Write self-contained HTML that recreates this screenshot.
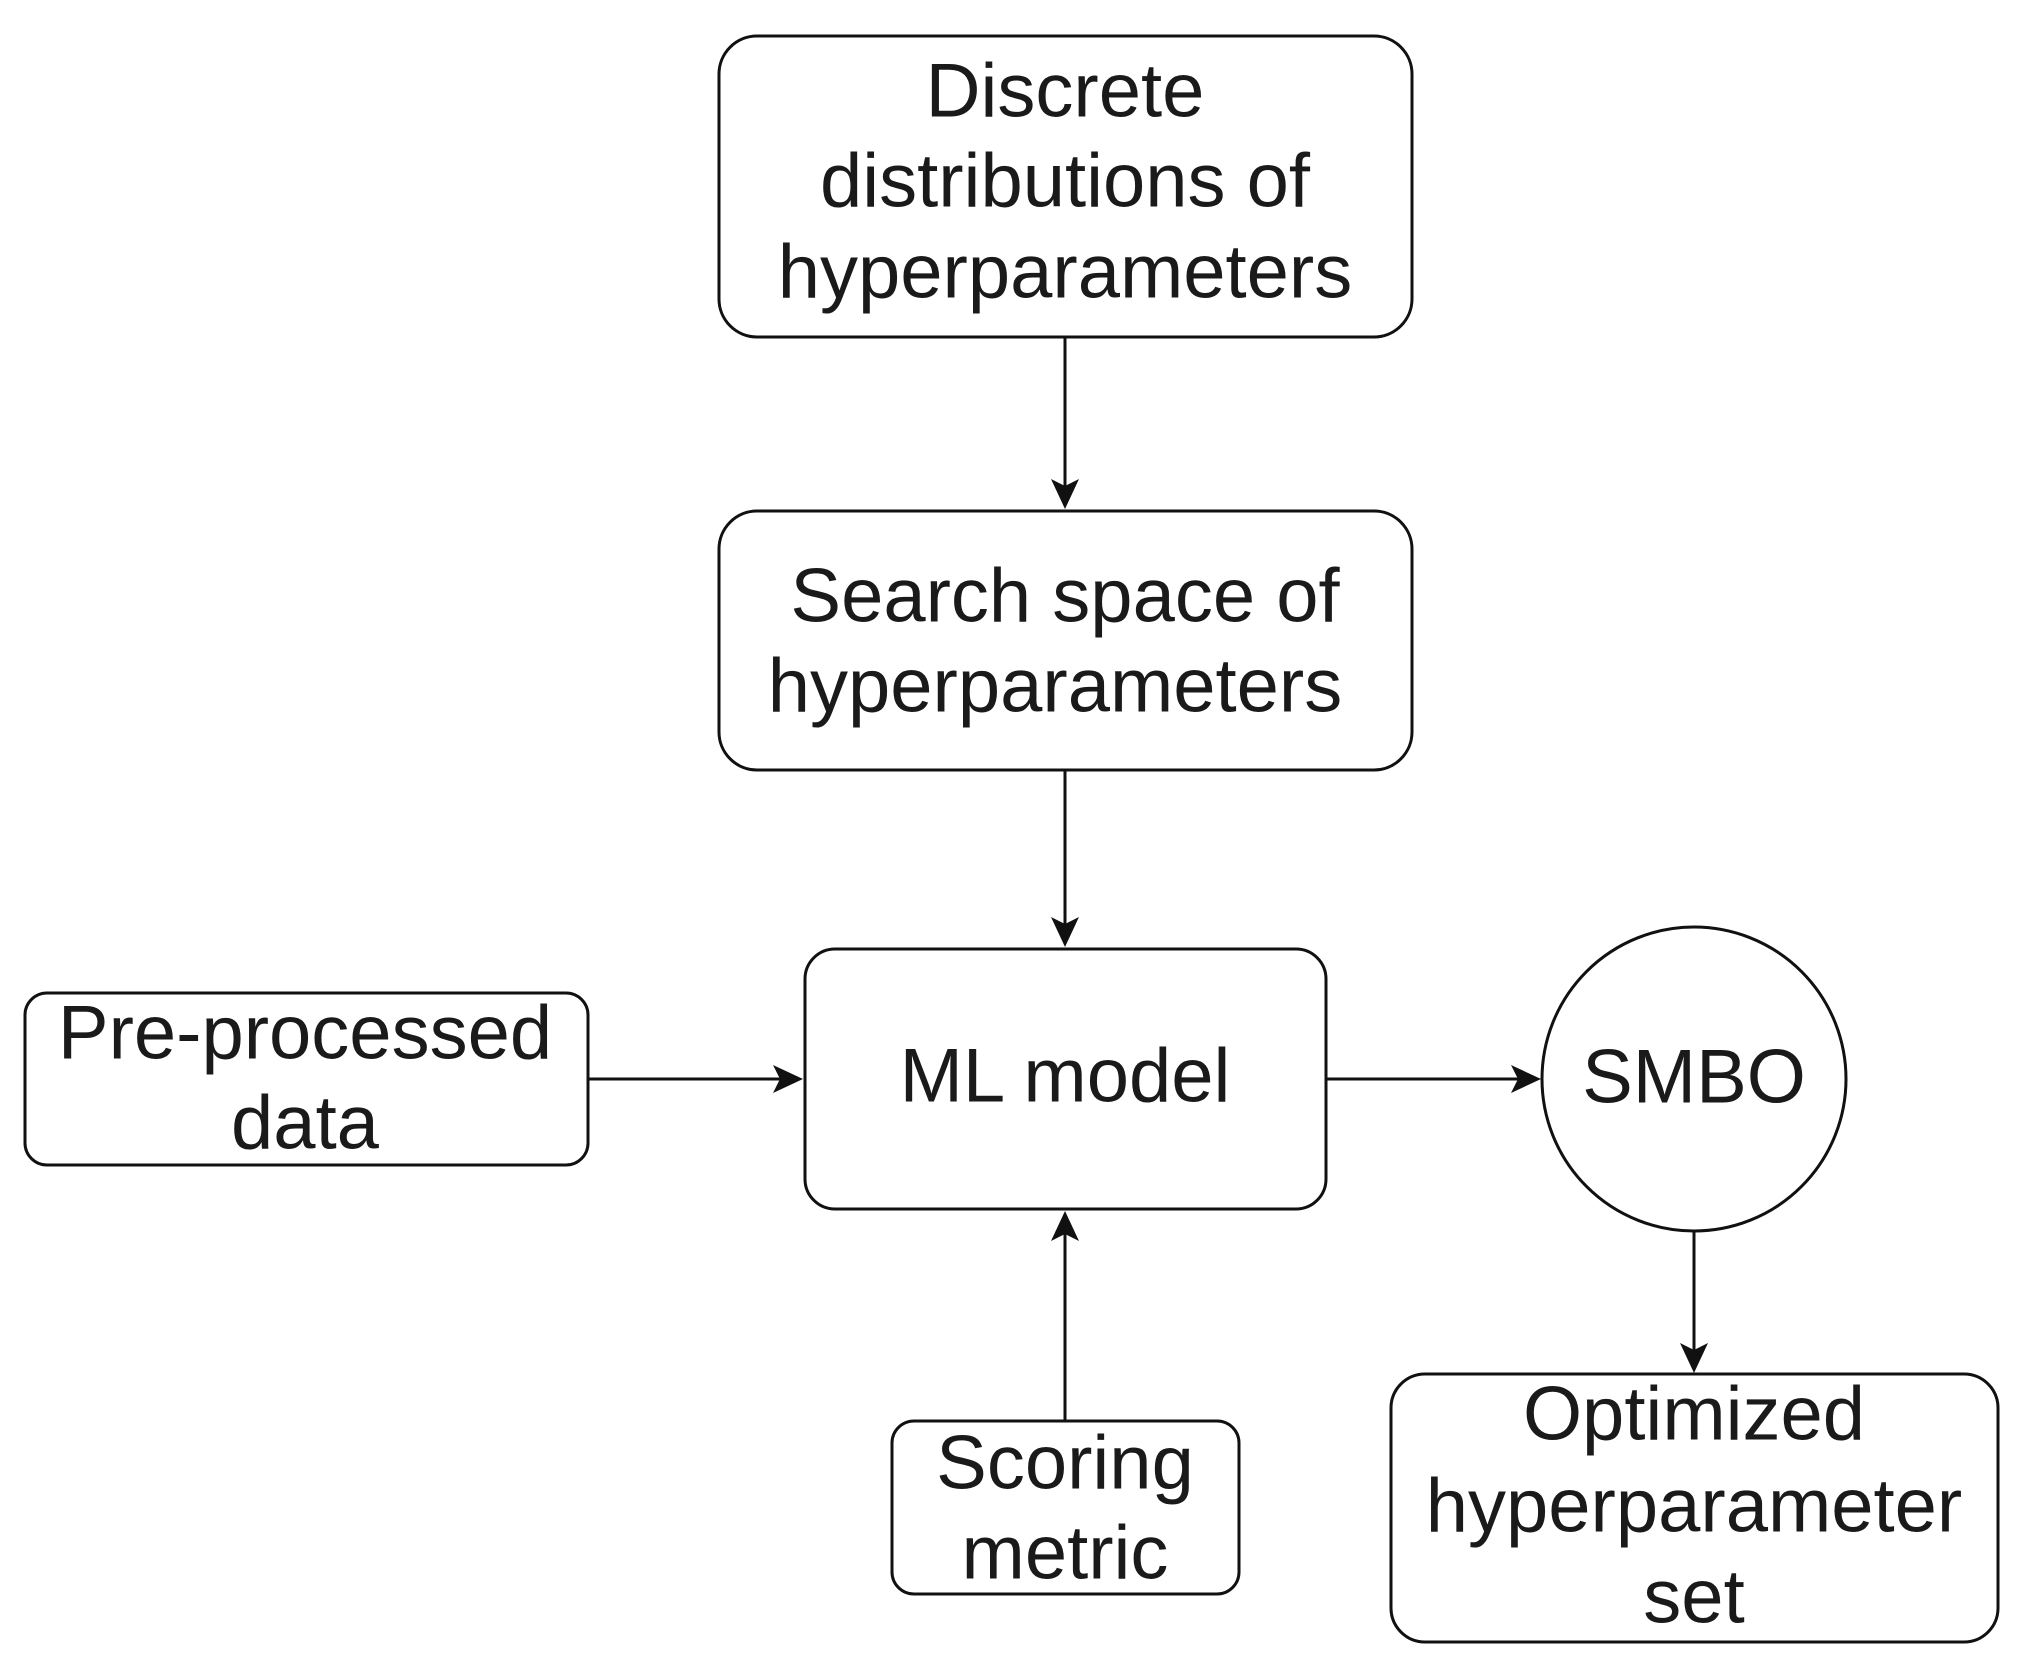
<!DOCTYPE html>
<html><head><meta charset="utf-8"><style>
html,body{margin:0;padding:0;background:#fff}
svg{display:block}
text{font-family:"Liberation Sans",Arial,sans-serif;font-size:76px;fill:#1a1a1a;text-anchor:middle;dominant-baseline:central}
</style></head><body>
<svg width="2019" height="1677" viewBox="0 0 2019 1677">
<g fill="none" stroke="#111" stroke-width="3">
<rect x="719" y="36" width="693" height="301" rx="38"/>
<rect x="719" y="511" width="693" height="259" rx="38"/>
<rect x="805" y="949" width="521" height="260" rx="30"/>
<rect x="25" y="993" width="563" height="172" rx="22"/>
<circle cx="1694" cy="1079" r="152"/>
<rect x="1391" y="1374" width="607" height="268" rx="34"/>
<rect x="892" y="1421" width="347" height="173" rx="22"/>
<line x1="1065" y1="337" x2="1065" y2="490"/>
<line x1="1065" y1="770" x2="1065" y2="928"/>
<line x1="588" y1="1079" x2="784" y2="1079"/>
<line x1="1326" y1="1079" x2="1520" y2="1079"/>
<line x1="1694" y1="1231" x2="1694" y2="1354"/>
<line x1="1065" y1="1421" x2="1065" y2="1230"/>
</g>
<g fill="#111">
<path d="M1065 509 L1051 479 L1065 486 L1079 479 Z"/>
<path d="M1065 947 L1051 917 L1065 924 L1079 917 Z"/>
<path d="M803 1079 L773 1065 L780 1079 L773 1093 Z"/>
<path d="M1541 1079 L1511 1065 L1518 1079 L1511 1093 Z"/>
<path d="M1694 1373 L1680 1343 L1694 1350 L1708 1343 Z"/>
<path d="M1065 1211 L1051 1241 L1065 1234 L1079 1241 Z"/>
</g>
<text x="1065" y="91">Discrete</text>
<text x="1065" y="181">distributions of</text>
<text x="1065" y="272">hyperparameters</text>
<text x="1065" y="596">Search space of</text>
<text x="1055" y="686">hyperparameters</text>
<text x="1065" y="1076">ML model</text>
<text x="305" y="1033">Pre-processed</text>
<text x="305" y="1123">data</text>
<text x="1694" y="1077">SMBO</text>
<text x="1694" y="1414">Optimized</text>
<text x="1694" y="1506">hyperparameter</text>
<text x="1694" y="1597">set</text>
<text x="1065" y="1463">Scoring</text>
<text x="1065" y="1553">metric</text>
</svg>
</body></html>
